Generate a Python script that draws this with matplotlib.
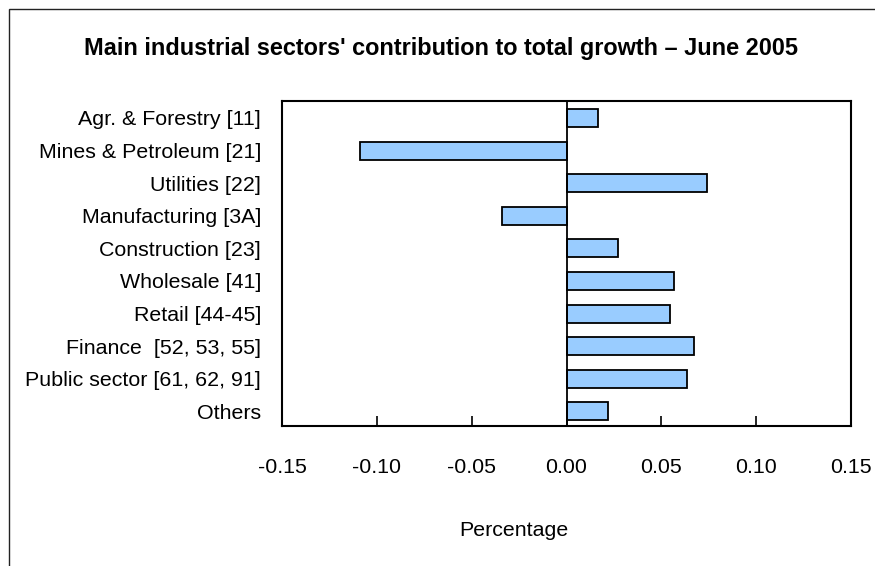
import matplotlib
matplotlib.use("Agg")
import matplotlib.pyplot as plt
from matplotlib.patches import Rectangle

categories = ["Agr. & Forestry [11]", "Mines & Petroleum [21]", "Utilities [22]",
              "Manufacturing [3A]", "Construction [23]", "Wholesale [41]",
              "Retail [44-45]", "Finance  [52, 53, 55]", "Public sector [61, 62, 91]",
              "Others"]
values = [0.0164, -0.1089, 0.0742, -0.0342, 0.0270, 0.0565, 0.0544, 0.0670, 0.0637, 0.0217]
xticks = [-0.15, -0.10, -0.05, 0.00, 0.05, 0.10, 0.15]

plt.rcParams['font.family'] = ['Liberation Sans', 'DejaVu Sans']

W, H = 875, 566
fig = plt.figure(figsize=(W / 100, H / 100), dpi=100)

# outer frame (partially visible)
fig.patches.append(Rectangle((9 / W, -0.1), 1.2, 1 - 9 / H + 0.1, transform=fig.transFigure,
                             fill=False, edgecolor='#222222', linewidth=1.0))

ax = fig.add_axes([282 / W, 1 - 426 / H, (851 - 282) / W, (426 - 101) / H])
y = list(range(len(categories)))
ax.barh(y, values, height=0.55, color='#99CCFF', edgecolor='black', linewidth=1.3, zorder=2)
ax.axvline(0, color='black', linewidth=1.3, zorder=3)
ax.set_xlim(-0.15, 0.15)
ax.set_ylim(9.45, -0.52)
ax.set_yticks(y)
ax.set_yticklabels(categories, fontsize=15.4)
ax.set_xticks(xticks)
ax.set_xticklabels([f"{t:.2f}" for t in xticks], fontsize=15.4)
ax.tick_params(axis='y', length=0, pad=15)
ax.tick_params(axis='x', direction='in', length=7, width=1.2, pad=23)
for s in ax.spines.values():
    s.set_linewidth(1.5)

fig.text(440.5 / W, 1 - 49 / H, "Main industrial sectors' contribution to total growth \u2013 June 2005",
         ha='center', va='center', fontsize=16.9, fontweight='bold')
fig.text(514 / W, 1 - 530 / H, "Percentage", ha='center', va='center', fontsize=15.4)

fig.savefig("out.png", dpi=100)
